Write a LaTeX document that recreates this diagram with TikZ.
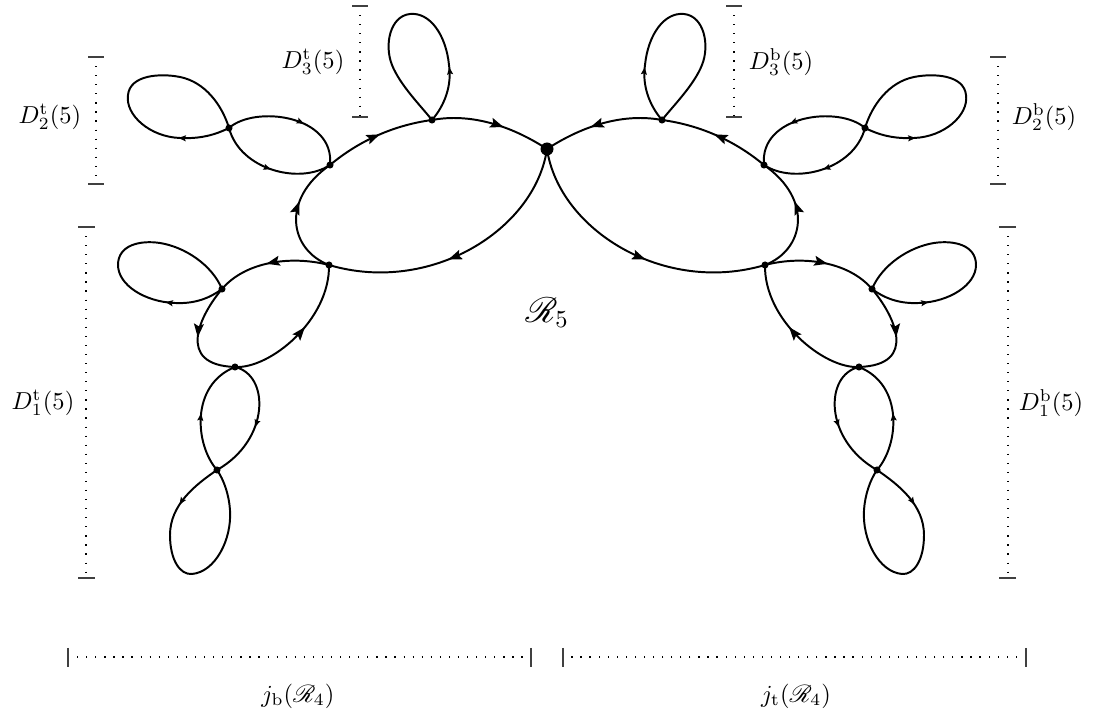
\documentclass[tikz,border=0pt]{standalone}
\usepackage{amsmath}
\usepackage{mathrsfs}
\usetikzlibrary{arrows.meta,decorations.markings}

\tikzset{
  loopline/.style={line width=0.8pt},
  bigarr/.style={postaction={decorate,decoration={markings,mark=at position #1 with {\arrow{Stealth[length=5.5pt,width=4pt,inset=1pt]}}}}},
  smallarr/.style={postaction={decorate,decoration={markings,mark=at position #1 with {\arrow{Stealth[length=3pt,width=2.4pt,inset=0.5pt]}}}}},
  vdot/.style={circle,fill,inner sep=0pt,minimum size=2.9pt},
  bigdot/.style={circle,fill,inner sep=0pt,minimum size=5.3pt},
  dimline/.style={line width=0.5pt,dash pattern=on 0.5pt off 3.2pt},
  endtick/.style={line width=0.5pt,black!75},
}

\newcommand{\halfpic}[3]{%
  % dots
  \node[vdot] (#1P1) at (432,120) {};
  \node[vdot] (#1P2) at (330,165) {};
  \node[vdot] (#1P3) at (329,265) {};
  \node[vdot] (#1Q)  at (229,128) {};
  \node[vdot] (#1L1) at (222,289) {};
  \node[vdot] (#1L2) at (235,367) {};
  \node[vdot] (#1L3) at (217,470) {};
  % main loop
  \draw[loopline,bigarr=0.56] (C.center) .. controls (535,230) and (430,295) .. (#1P3.center);
  \draw[loopline,bigarr=0.62] (#1P3.center) .. controls (290,250) and (280,200) .. (#1P2.center);
  \draw[loopline,bigarr=0.52] (#1P2.center) .. controls (360,140) and (395,125) .. (#1P1.center);
  \draw[loopline,bigarr=0.6] (#1P1.center) .. controls (470,113) and (510,125) .. (C.center);
  % top petal
  \draw[loopline,smallarr=0.22] (#1P1.center) .. controls (445,105) and (452,85) .. (449,65)
     .. controls (446,35) and (430,12) .. (410,14)
     .. controls (390,16) and (384,45) .. (392,65)
     .. controls (400,85) and (420,105) .. (#1P1.center);
  % upper lens
  \draw[loopline,smallarr=0.6] (#1Q.center) .. controls (255,105) and (335,115) .. (#1P2.center);
  \draw[loopline,smallarr=0.5] (#1Q.center) .. controls (240,170) and (300,185) .. (#1P2.center);
  % upper outer petal
  \draw[loopline,smallarr=0.2] (#1Q.center) .. controls (215,135) and (200,139) .. (180,138)
     .. controls (150,137) and (125,115) .. (128,95)
     .. controls (130,75) and (160,73) .. (180,77)
     .. controls (205,82) and (222,105) .. (#1Q.center);
  % lower ellipse
  \draw[loopline,bigarr=0.55] (#1P3.center) .. controls (290,255) and (245,262) .. (#1L1.center);
  \draw[loopline,bigarr=0.5] (#1L1.center) .. controls (200,315) and (175,365) .. (#1L2.center);
  \draw[loopline,bigarr=0.55] (#1L2.center) .. controls (270,369) and (330,320) .. (#1P3.center);
  % petal at L1
  \draw[loopline,smallarr=0.23] (#1L1.center) .. controls (210,298) and (195,304) .. (175,303)
     .. controls (145,302) and (118,285) .. (118,265)
     .. controls (118,245) and (140,240) .. (160,243)
     .. controls (185,247) and (212,265) .. (#1L1.center);
  % lower lens
  \draw[loopline,smallarr=0.5] (#1L3.center) .. controls (195,445) and (190,385) .. (#1L2.center);
  \draw[loopline,smallarr=0.55] (#1L2.center) .. controls (270,375) and (270,440) .. (#1L3.center);
  % bottom petal
  \draw[loopline,smallarr=0.2] (#1L3.center) .. controls (195,485) and (170,505) .. (170,535)
     .. controls (170,560) and (180,575) .. (192,574)
     .. controls (215,572) and (232,540) .. (230,510)
     .. controls (229,495) and (224,480) .. (#1L3.center);
  % dimension lines
  \draw[dimline] (360,6) -- (360,117);
  \draw[endtick] (352,6) -- (368,6);
  \draw[endtick] (352,117) -- (368,117);
  \draw[dimline] (96,57) -- (96,184);
  \draw[endtick] (88,57) -- (104,57);
  \draw[endtick] (88,184) -- (104,184);
  \draw[dimline] (86,227) -- (86,578);
  \draw[endtick] (78,227) -- (95,227);
  \draw[endtick] (78,578) -- (95,578);
  \draw[dimline] (68,657) -- (531,657);
  \draw[endtick] (68,648) -- (68,667);
  \draw[endtick] (531,648) -- (531,667);
  % labels
  \node (#1labD3) at (313,62) {$D^{\mathrm{#2}}_3(5)$};
  \node (#1labD2) at (50,117) {$D^{\mathrm{#2}}_2(5)$};
  \node (#1labD1) at (43,403) {$D^{\mathrm{#2}}_1(5)$};
  \node (#1labJ) at (298,696) {$j_{\mathrm{#3}}(\mathscr{R}_4)$};
}

\begin{document}
\begin{tikzpicture}[x=0.408pt,y=-0.408pt]
\useasboundingbox (0,0) rectangle (1094,715);
\node[bigdot] (C) at (547,149) {};
\begin{scope}
  \halfpic{L}{t}{b}
\end{scope}
\begin{scope}[shift={(1094,0)},xscale=-1]
  \halfpic{R}{b}{t}
\end{scope}
\node (R5) at (547,313) {\Large$\mathscr{R}_5$};
\end{tikzpicture}
\end{document}
